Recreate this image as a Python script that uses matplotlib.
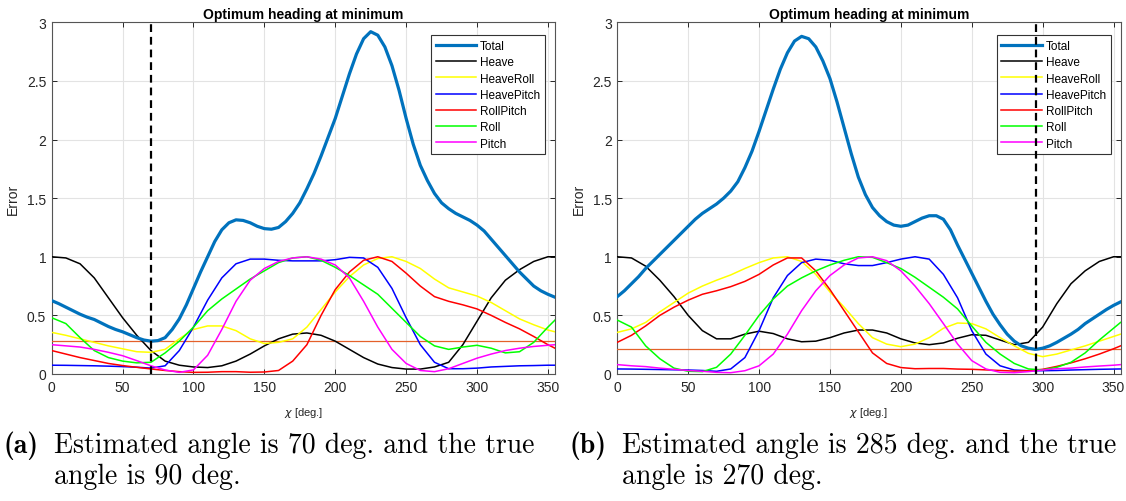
import numpy as np
import matplotlib
matplotlib.use("Agg")
import matplotlib.pyplot as plt

# Heading angles (deg)
angles = [0, 10, 20, 30, 40, 50, 60, 70, 80, 90, 100, 110, 120, 130, 140, 150, 160, 170,
          180, 190, 200, 210, 220, 230, 240, 250, 260, 270, 280, 290, 300, 310, 320, 330,
          340, 350, 355]
angles_fine = list(range(0, 360, 5))

# ---- Case (a): true heading 90 deg ----
a_total = [0.626, 0.60, 0.57, 0.54, 0.51, 0.485, 0.465, 0.435, 0.405, 0.38, 0.36, 0.335,
           0.31, 0.29, 0.28, 0.285, 0.31, 0.38, 0.47, 0.59, 0.73, 0.87, 1.00, 1.13,
           1.23, 1.29, 1.315, 1.31, 1.29, 1.26, 1.24, 1.235, 1.25, 1.30, 1.37, 1.46,
           1.58, 1.71, 1.86, 2.02, 2.18, 2.37, 2.56, 2.73, 2.86, 2.92, 2.89, 2.79,
           2.63, 2.42, 2.18, 1.96, 1.78, 1.65, 1.54, 1.46, 1.41, 1.37, 1.34, 1.31,
           1.27, 1.22, 1.15, 1.08, 1.01, 0.94, 0.87, 0.81, 0.75, 0.71, 0.68, 0.655]
a_heave = [1.0, 0.99, 0.94, 0.82, 0.65, 0.48, 0.33, 0.2, 0.11, 0.075, 0.06, 0.055, 0.07,
           0.11, 0.17, 0.24, 0.3, 0.34, 0.35, 0.33, 0.28, 0.21, 0.14, 0.085, 0.055, 0.042,
           0.042, 0.06, 0.1, 0.25, 0.45, 0.65, 0.8, 0.89, 0.96, 1.0, 1.0]
a_heaveroll = [0.355, 0.33, 0.3, 0.27, 0.24, 0.215, 0.19, 0.185, 0.21, 0.3, 0.38, 0.41,
               0.41, 0.37, 0.3, 0.26, 0.27, 0.3, 0.4, 0.55, 0.7, 0.83, 0.93, 0.985, 1.0,
               0.96, 0.9, 0.81, 0.735, 0.7, 0.665, 0.61, 0.54, 0.47, 0.42, 0.375, 0.36]
a_heavepitch = [0.075, 0.074, 0.072, 0.07, 0.067, 0.063, 0.058, 0.05, 0.07, 0.2, 0.4,
                0.63, 0.82, 0.94, 0.98, 0.98, 0.97, 0.965, 0.965, 0.965, 0.975, 0.995,
                0.99, 0.91, 0.73, 0.48, 0.25, 0.1, 0.045, 0.045, 0.05, 0.06, 0.065, 0.07,
                0.072, 0.075, 0.075]
a_rollpitch = [0.2, 0.17, 0.14, 0.115, 0.09, 0.072, 0.057, 0.043, 0.03, 0.02, 0.014,
               0.015, 0.02, 0.02, 0.015, 0.017, 0.03, 0.11, 0.25, 0.5, 0.72, 0.87, 0.97,
               1.0, 0.96, 0.86, 0.75, 0.66, 0.62, 0.59, 0.555, 0.5, 0.44, 0.385, 0.32,
               0.25, 0.22]
a_roll = [0.48, 0.43, 0.31, 0.2, 0.14, 0.11, 0.095, 0.1, 0.18, 0.28, 0.4, 0.54, 0.64,
          0.725, 0.81, 0.88, 0.95, 0.99, 1.0, 0.97, 0.91, 0.84, 0.76, 0.68, 0.56, 0.44,
          0.32, 0.24, 0.21, 0.23, 0.245, 0.22, 0.18, 0.19, 0.27, 0.4, 0.46]
a_pitch = [0.25, 0.24, 0.23, 0.21, 0.185, 0.156, 0.114, 0.07, 0.034, 0.014, 0.035, 0.16,
           0.38, 0.62, 0.8, 0.9, 0.96, 0.99, 1.0, 0.98, 0.93, 0.82, 0.62, 0.4, 0.21,
           0.09, 0.03, 0.02, 0.045, 0.09, 0.135, 0.17, 0.2, 0.22, 0.235, 0.245, 0.25]
a_estimate = 70

# ---- Case (b): true heading 270 deg ----
b_total = [0.66, 0.71, 0.77, 0.83, 0.9, 0.96, 1.02, 1.08, 1.14, 1.2, 1.26, 1.32, 1.37,
           1.41, 1.45, 1.5, 1.56, 1.64, 1.76, 1.9, 2.07, 2.25, 2.43, 2.6, 2.74, 2.84,
           2.88, 2.86, 2.79, 2.67, 2.52, 2.32, 2.1, 1.88, 1.68, 1.53, 1.42, 1.35, 1.3,
           1.27, 1.26, 1.27, 1.3, 1.33, 1.35, 1.35, 1.32, 1.23, 1.1, 0.98, 0.86, 0.74,
           0.62, 0.51, 0.42, 0.34, 0.28, 0.24, 0.22, 0.21, 0.22, 0.24, 0.27, 0.305,
           0.34, 0.38, 0.43, 0.47, 0.51, 0.55, 0.585, 0.615]
b_heave = [1.0, 0.99, 0.92, 0.8, 0.66, 0.5, 0.37, 0.3, 0.3, 0.34, 0.365, 0.345, 0.3,
           0.275, 0.28, 0.31, 0.35, 0.375, 0.375, 0.35, 0.3, 0.265, 0.25, 0.265, 0.305,
           0.335, 0.33, 0.29, 0.25, 0.27, 0.4, 0.6, 0.77, 0.88, 0.96, 1.0, 1.0]
b_heaveroll = [0.355, 0.385, 0.44, 0.53, 0.61, 0.69, 0.75, 0.8, 0.845, 0.9, 0.95, 0.99,
               1.0, 0.96, 0.85, 0.7, 0.57, 0.43, 0.31, 0.255, 0.233, 0.255, 0.31, 0.39,
               0.435, 0.43, 0.385, 0.31, 0.24, 0.176, 0.148, 0.17, 0.205, 0.24, 0.28,
               0.32, 0.34]
b_heavepitch = [0.043, 0.042, 0.04, 0.038, 0.036, 0.034, 0.03, 0.023, 0.043, 0.14, 0.37,
                0.65, 0.84, 0.95, 0.98, 0.97, 0.94, 0.925, 0.925, 0.95, 0.98, 1.0, 0.98,
                0.85, 0.65, 0.37, 0.17, 0.07, 0.034, 0.028, 0.028, 0.03, 0.034, 0.037,
                0.04, 0.042, 0.043]
b_rollpitch = [0.27, 0.33, 0.41, 0.5, 0.57, 0.63, 0.68, 0.71, 0.745, 0.79, 0.85, 0.93,
               0.99, 0.99, 0.88, 0.72, 0.54, 0.36, 0.18, 0.09, 0.055, 0.045, 0.047, 0.047,
               0.042, 0.04, 0.035, 0.03, 0.025, 0.028, 0.04, 0.065, 0.095, 0.13, 0.17,
               0.215, 0.24]
b_roll = [0.46, 0.4, 0.24, 0.13, 0.05, 0.023, 0.02, 0.057, 0.17, 0.33, 0.5, 0.64, 0.75,
          0.82, 0.88, 0.93, 0.97, 1.0, 0.995, 0.95, 0.9, 0.825, 0.74, 0.655, 0.555, 0.41,
          0.27, 0.17, 0.09, 0.043, 0.035, 0.057, 0.1, 0.18, 0.29, 0.39, 0.44]
b_pitch = [0.08, 0.07, 0.063, 0.05, 0.04, 0.03, 0.023, 0.014, 0.011, 0.028, 0.07, 0.17,
           0.34, 0.54, 0.71, 0.84, 0.93, 0.99, 1.0, 0.967, 0.88, 0.75, 0.6, 0.43, 0.256,
           0.114, 0.043, 0.014, 0.011, 0.02, 0.034, 0.045, 0.05, 0.06, 0.068, 0.075, 0.08]
b_estimate = 295

series_labels = ["Heave", "HeaveRoll", "HeavePitch", "RollPitch", "Roll", "Pitch"]
series_colors = ["#000000", "#FFFF00", "#0000FF", "#FF0000", "#00FF00", "#FF00FF"]
x_ticks = [0, 50, 100, 150, 200, 250, 300, 350]
y_ticks = [0, 0.5, 1, 1.5, 2, 2.5, 3]
y_ticklabels = ["0", "0.5", "1", "1.5", "2", "2.5", "3"]

captions = [("(a)", "Estimated angle is 70 deg. and the true", "angle is 90 deg."),
            ("(b)", "Estimated angle is 285 deg. and the true", "angle is 270 deg.")]

plt.rcParams["font.family"] = ["Liberation Sans", "DejaVu Sans"]
plt.rcParams["mathtext.fontset"] = "dejavusans"

W, H = 1126, 502
fig = plt.figure(figsize=(W / 100, H / 100), dpi=100)

axis_color = "#262626"
ax_w = (555 - 51.7) / W
ax_h = (375 - 23.3) / H
ax_b = (H - 375) / H
lefts = [51.7 / W, 617.3 / W]

cases = [
    (a_total, [a_heave, a_heaveroll, a_heavepitch, a_rollpitch, a_roll, a_pitch], a_estimate),
    (b_total, [b_heave, b_heaveroll, b_heavepitch, b_rollpitch, b_roll, b_pitch], b_estimate),
]

for i, (total, parts, est) in enumerate(cases):
    ax = fig.add_axes([lefts[i], ax_b, ax_w, ax_h])
    ax.plot(angles_fine, total, color="#0072BD", lw=2.3, label="Total", zorder=5)
    for vals, lab, col in zip(parts, series_labels, series_colors):
        ax.plot(angles, vals, color=col, lw=1.1, label=lab, zorder=4)
    ax.axhline(min(total), color="#E4602A", lw=0.9, zorder=3)
    ax.axvline(est, color="black", lw=1.6, ls=(0, (3.5, 2.2)), zorder=6)

    ax.set_xlim(0, 355)
    ax.set_ylim(0, 3)
    ax.set_xticks(x_ticks)
    ax.set_yticks(y_ticks)
    ax.set_yticklabels(y_ticklabels)
    ax.grid(True, color="#e3e3e3", lw=0.8)
    ax.set_axisbelow(True)
    ax.tick_params(direction="in", length=3.5, width=0.7, colors=axis_color,
                   labelsize=10, top=True, right=True, pad=4)
    for sp in ax.spines.values():
        sp.set_color("#555555")
        sp.set_linewidth(0.8)

    ax.set_title("Optimum heading at minimum", fontsize=10, fontweight="bold",
                 color="black", pad=3)
    ax.set_ylabel("Error", fontsize=10, color=axis_color, labelpad=5)
    ax.set_xlabel(r"$\chi$ [deg.]", fontsize=8, color=axis_color, labelpad=8)

    leg = ax.legend(loc="upper right", bbox_to_anchor=(1 - 10 / 503.3, 1 - 13 / 351.7),
                    borderaxespad=0, fontsize=8.5, handlelength=3.4, handletextpad=0.35,
                    labelspacing=0.36, borderpad=0.4, fancybox=False, framealpha=1,
                    edgecolor="#333333")
    leg.get_frame().set_linewidth(0.8)

    tag, line1, line2 = captions[i]
    x0 = [3, 570][i]
    xt = [54, 622][i]
    fig.text(x0 / W, 1 - 446 / H, tag, family="cmb10", fontsize=20, va="center")
    fig.text(xt / W, 1 - 446 / H, line1, family="cmr10", fontsize=20, va="center")
    fig.text(xt / W, 1 - 477 / H, line2, family="cmr10", fontsize=20, va="center")

fig.savefig("out.png", dpi=100)
